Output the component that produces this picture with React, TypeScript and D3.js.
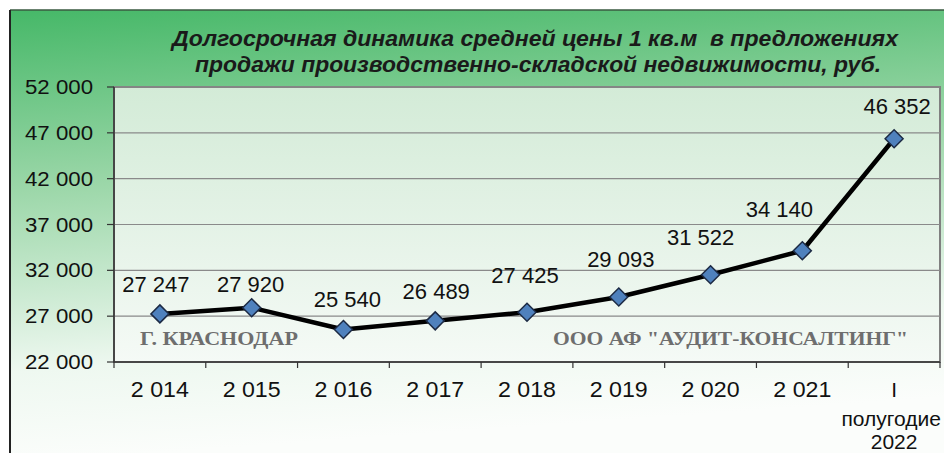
import React from 'react';
import { scaleBand, scaleLinear, line } from 'd3';

const categories = ['2 014', '2 015', '2 016', '2 017', '2 018', '2 019', '2 020', '2 021', 'I полугодие 2022'];
const prices = [27247, 27920, 25540, 26489, 27425, 29093, 31522, 34140, 46352];
const priceLabels = ['27 247', '27 920', '25 540', '26 489', '27 425', '29 093', '31 522', '34 140', '46 352'];
const yTicks = [22000, 27000, 32000, 37000, 42000, 47000, 52000];
const yTickLabels = ['22 000', '27 000', '32 000', '37 000', '42 000', '47 000', '52 000'];
const titleLines = [
    'Долгосрочная динамика средней цены 1 кв.м  в предложениях',
    'продажи производственно-складской недвижимости, руб.'
];

// label nudges (dx, dy above the marker), as placed in the original
const labelDx = [-4, -1, 4, 1, -2, 2, -10, -23, 3];
const labelDy = [22, 16, 23, 22, 29, 30, 30, 34, 25];

const W = 944;
const H = 455;
const plot = { left: 114, right: 940, top: 87, bottom: 362 };
const font = 'Arial, "Liberation Sans", sans-serif';
const serif = '"Liberation Serif", "Times New Roman", serif';

export default function App() {
    const x = scaleBand<string>()
        .domain(categories)
        .range([plot.left, plot.right])
        .padding(0);
    const y = scaleLinear()
        .domain([22000, 52000])
        .range([plot.bottom, plot.top]);

    const pts = prices.map((v, i) => [x(categories[i])! + x.bandwidth() / 2, y(v)] as [number, number]);
    const path = line()(pts) || '';

    const boundaries = categories.map(c => x(c)!).concat([plot.right]);

    return (
        <svg width={W} height={H} style={{ position: 'absolute', left: 0, top: 0 }}>
            <defs>
                <linearGradient id="outer" x1="0" y1="0" x2="0.15" y2="1">
                    <stop offset="0%" stopColor="#46b868" />
                    <stop offset="40%" stopColor="#9cd7a9" />
                    <stop offset="80%" stopColor="#eef8f0" />
                    <stop offset="100%" stopColor="#fbfdfb" />
                </linearGradient>
                <linearGradient id="inner" x1="0" y1="0" x2="0" y2="1">
                    <stop offset="0%" stopColor="#d3ebd7" />
                    <stop offset="100%" stopColor="#f5faf6" />
                </linearGradient>
            </defs>

            <rect x={0} y={0} width={W} height={H} fill="#ffffff" />
            <rect x={10} y={10} width={W} height={443} fill="url(#outer)" />
            <line x1={10} y1={10} x2={W} y2={10} stroke="#3a5a40" strokeWidth={1.5} />
            <line x1={10} y1={10} x2={10} y2={453} stroke="#222" strokeWidth={2} />

            {titleLines.map((t, i) => (
                <text key={i} x={i === 0 ? 172 : 195} y={i === 0 ? 46 : 72}
                    textLength={i === 0 ? 726 : 686} lengthAdjust="spacingAndGlyphs"
                    style={{ whiteSpace: 'pre' }}
                    fontFamily={font} fontSize={22} fontWeight="bold" fontStyle="italic" fill="#1a1a1a">
                    {t}
                </text>
            ))}

            <rect x={plot.left} y={plot.top} width={plot.right - plot.left} height={plot.bottom - plot.top}
                fill="url(#inner)" stroke="#808080" strokeWidth={2} />

            {yTicks.map((t, i) => (
                <g key={t}>
                    <line x1={plot.left} x2={plot.right} y1={y(t)} y2={y(t)} stroke="#8a8a8a" strokeWidth={1.2} />
                    <line x1={plot.left - 7} x2={plot.left} y1={y(t)} y2={y(t)} stroke="#333" strokeWidth={1.2} />
                    <text x={93} y={y(t) + 7} textAnchor="end" fontFamily={font} fontSize={20}
                        textLength={68} lengthAdjust="spacingAndGlyphs" fill="#111">
                        {yTickLabels[i]}
                    </text>
                </g>
            ))}

            <line x1={plot.left} x2={plot.left} y1={plot.top} y2={plot.bottom} stroke="#333" strokeWidth={1.5} />
            <line x1={plot.left} x2={plot.right} y1={plot.bottom} y2={plot.bottom} stroke="#333" strokeWidth={1.5} />
            {boundaries.map((b, i) => (
                <line key={i} x1={b} x2={b} y1={plot.bottom} y2={plot.bottom + 6} stroke="#333" strokeWidth={1.2} />
            ))}

            {categories.map((c, i) => {
                const cx = x(c)! + x.bandwidth() / 2;
                if (i === categories.length - 1) {
                    const parts = c.split(' ');
                    return (
                        <g key={c} fontFamily={font} fontSize={21} fill="#111" textAnchor="middle">
                            <text x={cx} y={397}>{parts[0]}</text>
                            <text x={cx - 3} y={426}>{parts[1]}</text>
                            <text x={cx} y={449}>{parts[2]}</text>
                        </g>
                    );
                }
                return (
                    <text key={c} x={cx} y={397} textAnchor="middle" fontFamily={font} fontSize={22}
                        textLength={58} lengthAdjust="spacingAndGlyphs" fill="#111">
                        {c}
                    </text>
                );
            })}

            <text x={140} y={345} fontFamily={serif} fontSize={19} fontWeight="bold" fill="#6e6e6e"
                textLength={158} lengthAdjust="spacingAndGlyphs">Г. КРАСНОДАР</text>
            <text x={553} y={345} fontFamily={serif} fontSize={19} fontWeight="bold" fill="#6e6e6e"
                textLength={355} lengthAdjust="spacingAndGlyphs">
                ООО АФ "АУДИТ-КОНСАЛТИНГ"
            </text>

            <path d={path} fill="none" stroke="#000" strokeWidth={4.5} strokeLinejoin="round" />
            {pts.map(([px, py], i) => (
                <g key={i}>
                    <path d={`M${px},${py - 9}L${px + 9},${py}L${px},${py + 9}L${px - 9},${py}Z`}
                        fill="#4f81bd" stroke="#1c2a44" strokeWidth={1.5} />
                    <text x={px + labelDx[i]} y={py - labelDy[i]} textAnchor="middle" fontFamily={font}
                        fontSize={22} fill="#111">
                        {priceLabels[i]}
                    </text>
                </g>
            ))}
        </svg>
    );
}
